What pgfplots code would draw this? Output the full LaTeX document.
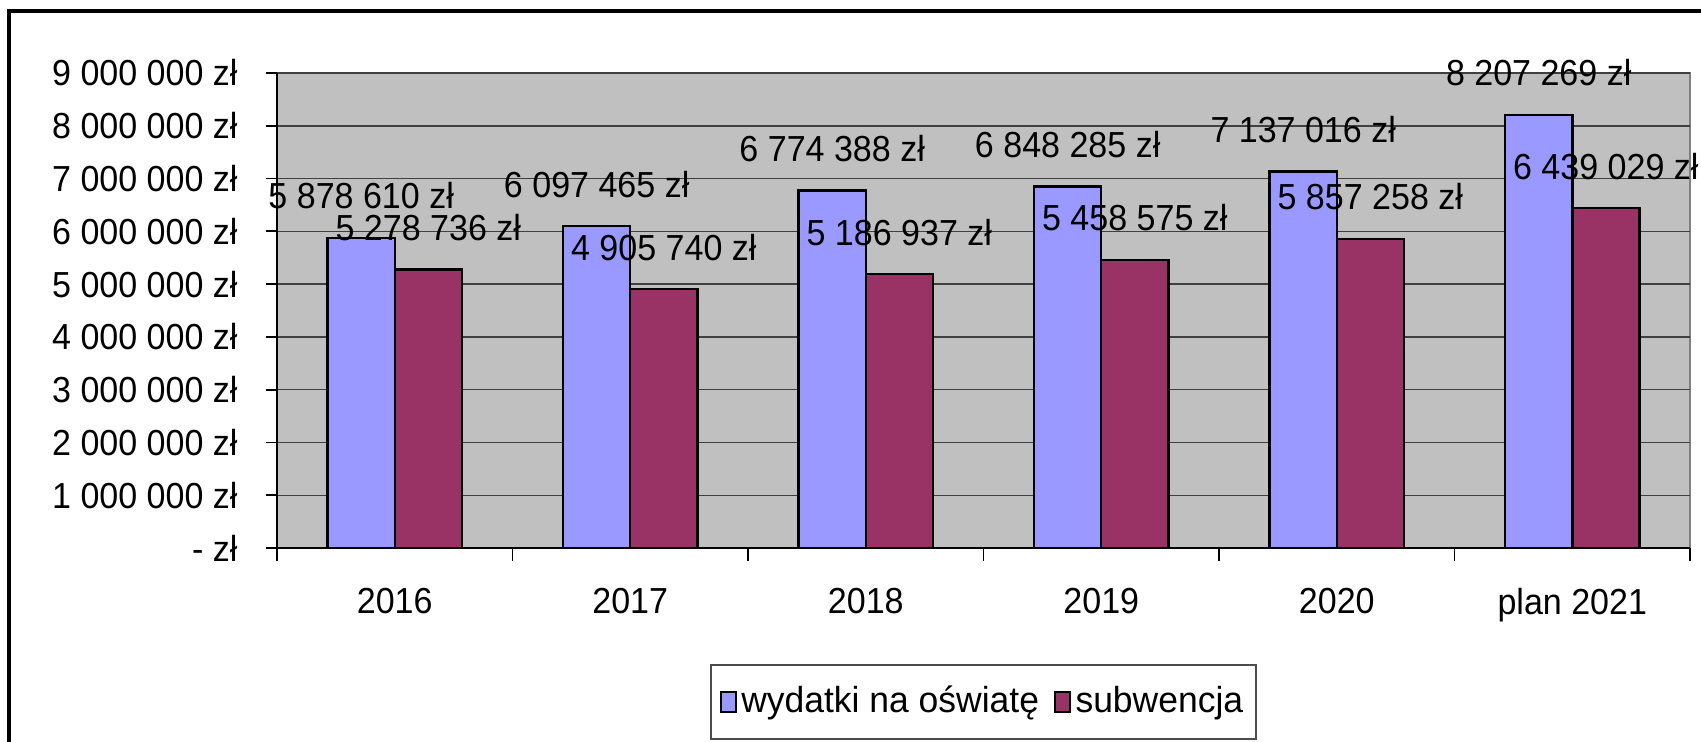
\documentclass[border=0pt]{standalone}
\usepackage{fontspec}
\setmainfont{Liberation Sans}[FakeStretch=0.94]
\newfontfamily\legfont{Liberation Sans}[FakeStretch=0.98]
\usepackage{pgfplots}
\pgfplotsset{compat=1.18}

\definecolor{barblue}{HTML}{9999FF}
\definecolor{barred}{HTML}{993366}
\definecolor{plotbg}{HTML}{C0C0C0}

\begin{document}
\begin{tikzpicture}
\path[use as bounding box] (0,0) rectangle (17.01cm,7.41cm);
\clip (0,0) rectangle (17.01cm,7.41cm);
% outer chart frame (runs off the right and bottom edge)
\draw[line width=0.9pt] (0.09cm,-1cm) -- (0.09cm,7.30cm) -- (18cm,7.30cm);
\begin{axis}[
    at={(2.77cm,1.93cm)}, anchor=south west,
    scale only axis, width=14.13cm, height=4.75cm,
    font=\fontsize{10.3}{12}\selectfont,
    ybar=0pt, bar width=0.285,
    xmin=-0.5, xmax=5.5, ymin=0, ymax=9000000,
    axis background/.style={fill=plotbg, draw=black!50},
    axis x line*=bottom, axis y line*=left,
    axis line style={black, line width=0.5pt},
    tick align=outside,
    xtick={0,1,2,3,4,5},
    xticklabels={2016,2017,2018,2019,2020,plan 2021},
    minor xtick={-0.5,0.5,1.5,2.5,3.5,4.5,5.5},
    major x tick style={draw=none},
    minor x tick style={black, line width=0.5pt},
    minor tick length=0.13cm,
    major tick length=0.11cm,
    y tick style={black, line width=0.5pt},
    ytick={0,1000000,2000000,3000000,4000000,5000000,6000000,7000000,8000000,9000000},
    yticklabels={- zł,1 000 000 zł,2 000 000 zł,3 000 000 zł,4 000 000 zł,5 000 000 zł,6 000 000 zł,7 000 000 zł,8 000 000 zł,9 000 000 zł},
    scaled y ticks=false,
    yticklabel style={anchor=east, xshift=-0.16cm},
    xticklabel style={anchor=north, yshift=-0.17cm},
    ymajorgrids, grid style={black!75, line width=0.4pt},
    point meta=explicit symbolic,
    nodes near coords,
    nodes near coords style={anchor=center, yshift=0.42cm, font=\fontsize{10.3}{12}\selectfont, inner sep=0pt},
    clip=false,
    legend columns=2,
    legend style={at={(0.5,-0.324)}, anchor=center, draw=black!70, line width=0.4pt,
        inner xsep=2.5pt, inner ysep=4pt,
        nodes={inner xsep=1.2pt},
        /tikz/every even column/.append style={column sep=3pt},
        font=\legfont\fontsize{10.3}{12}\selectfont},
    legend image code/.code={\draw[#1, line width=0.7pt] (0cm,-0.1cm) rectangle (0.15cm,0.1cm);},
]
\addplot[fill=barblue, draw=black, line width=0.7pt] coordinates {
    (0,5878610) [5 878 610 zł]
    (1,6097465) [6 097 465 zł]
    (2,6774388) [6 774 388 zł]
    (3,6848285) [6 848 285 zł]
    (4,7137016) [7 137 016 zł]
    (5,8207269) [8 207 269 zł]
};
\addplot[fill=barred, draw=black, line width=0.7pt] coordinates {
    (0,5278736) [5 278 736 zł]
    (1,4905740) [4 905 740 zł]
    (2,5186937) [5 186 937 zł]
    (3,5458575) [5 458 575 zł]
    (4,5857258) [5 857 258 zł]
    (5,6439029) [6 439 029 zł]
};
\legend{wydatki na oświatę, subwencja}
\end{axis}
\end{tikzpicture}
\end{document}
